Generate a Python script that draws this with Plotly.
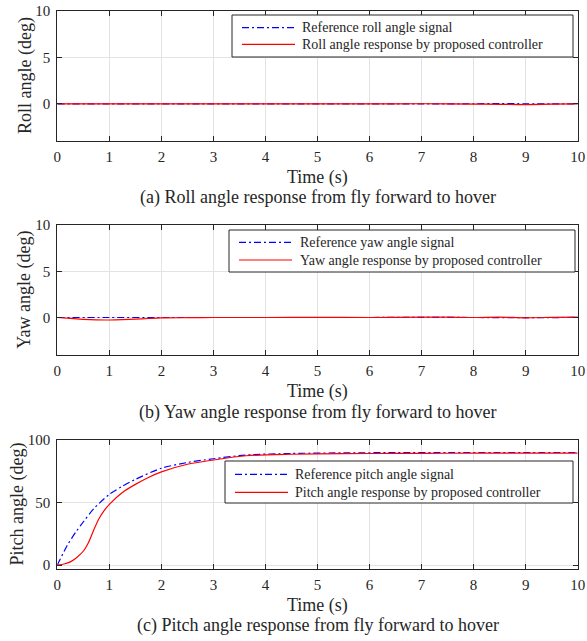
import plotly.graph_objects as go

# ---------------- data ----------------
time_ticks = [0, 1, 2, 3, 4, 5, 6, 7, 8, 9, 10]

roll_t = [0, 1, 2, 3, 4, 5, 6, 7, 8, 8.5, 9, 9.5, 10]
roll_ref = [0, 0, 0, 0, 0, 0, 0, 0, 0.01, 0.02, 0.01, 0.0, 0]
roll_resp = [0, 0, 0, 0, 0, 0, 0, 0.01, -0.02, -0.05, -0.08, -0.03, 0]

yaw_ref_t = [0, 1, 2, 3, 4, 5, 6, 7, 8, 9, 10]
yaw_ref = [0, 0, 0, 0, 0, 0, 0, 0.02, 0.0, -0.02, 0.01]
yaw_t = [0, 0.25, 0.5, 0.75, 1, 1.25, 1.5, 1.75, 2, 2.5, 3, 4, 5, 6, 7, 7.5, 8, 8.5, 9, 9.5, 10]
yaw_resp = [0, -0.1, -0.2, -0.26, -0.27, -0.24, -0.18, -0.11, -0.05, -0.02, 0, 0, 0.01, 0,
            0.03, 0.04, 0, 0.04, -0.03, 0.02, 0.05]

pitch_ref_t = [0, 0.19, 0.35, 0.51, 0.7, 1.0, 1.25, 1.5, 2.0, 2.5, 3.0, 3.63, 4.5, 5.5,
               6.5, 7.5, 8.5, 10.0]
pitch_ref = [0, 15.6, 26, 35, 45, 56.5, 63, 68.5, 77.4, 82, 85, 88, 89.2, 89.7,
             89.9, 90, 90, 90]
pitch_t = [0, 0.13, 0.26, 0.38, 0.51, 0.6, 0.7, 0.8, 0.9, 1.0, 1.25, 1.5, 1.75, 2.0, 2.5,
           3.0, 3.63, 4.5, 5.5, 6.5, 7.5, 8.5, 10.0]
pitch_resp = [0, 0.8, 2.7, 6.2, 11.6, 18, 28, 37, 43.5, 48.5, 58, 64.5, 70, 74.5, 80.6,
              84, 87.4, 88.6, 89.1, 89.3, 89.4, 89.5, 89.5]

captions = ["(a) Roll angle response from fly forward to hover",
            "(b) Yaw angle response from fly forward to hover",
            "(c) Pitch angle response from fly forward to hover"]
ytitles = ["Roll angle (deg)", "Yaw angle (deg)", "Pitch angle (deg)"]
legend_names = [["Reference roll angle signal", "Roll angle response by proposed controller"],
                ["Reference yaw angle signal", "Yaw angle response by proposed controller"],
                ["Reference pitch angle signal", "Pitch angle response by proposed controller"]]

# ---------------- layout helpers ----------------
W, H = 587, 641
FONT = "Liberation Serif"
TXT = "#262626"
BLUE = "#0000FF"
RED = "#FF0000"
DASHDOT = "7px,3px,2px,3px"

def px(x):
    return x / W

def py(y):
    return 1 - y / H

fig = go.Figure()

series = [
    (roll_t, roll_ref, roll_t, roll_resp),
    (yaw_ref_t, yaw_ref, yaw_t, yaw_resp),
    (pitch_ref_t, pitch_ref, pitch_t, pitch_resp),
]
for i, (rt, rv, st, sv) in enumerate(series):
    ax = "" if i == 0 else str(i + 1)
    fig.add_trace(go.Scatter(x=rt, y=rv, mode="lines", name=legend_names[i][0],
                             xaxis="x" + ax, yaxis="y" + ax, showlegend=False,
                             line=dict(color=BLUE, width=1.2, dash=DASHDOT,
                                       shape="spline", smoothing=0.8)))
    fig.add_trace(go.Scatter(x=st, y=sv, mode="lines", name=legend_names[i][1],
                             xaxis="x" + ax, yaxis="y" + ax, showlegend=False,
                             line=dict(color=RED, width=1.2, shape="spline", smoothing=0.8)))

# pixel geometry of each panel: (top, bottom)
panels = [(11, 141), (225, 354.5), (440, 569)]
yranges = [[-4, 10], [-4, 10], [-3.2, 100]]
yticks = [[0, 5, 10], [0, 5, 10], [0, 50, 100]]
x0, x1 = 57.3, 577.7

axis_common = dict(
    ticks="inside", ticklen=5, tickwidth=1, tickcolor=TXT,
    showline=True, linecolor=TXT, linewidth=1, mirror="ticks",
    showgrid=True, gridcolor="#e3e3e3", gridwidth=1, zeroline=False,
    tickfont=dict(family=FONT, size=15, color=TXT),
)

layout = dict(
    width=W, height=H, margin=dict(l=0, r=0, t=0, b=0, autoexpand=False),
    paper_bgcolor="white", plot_bgcolor="white",
    font=dict(family=FONT, color=TXT),
)
for i, (top, bot) in enumerate(panels):
    ax = "" if i == 0 else str(i + 1)
    layout["xaxis" + ax] = dict(axis_common, domain=[px(x0), px(x1)], range=[0, 10],
                                tickvals=time_ticks, anchor="y" + ax, ticklabelstandoff=2)
    layout["yaxis" + ax] = dict(axis_common, domain=[py(bot), py(top)], range=yranges[i],
                                tickvals=yticks[i], anchor="x" + ax, ticklabelstandoff=3)
fig.update_layout(**layout)

# axis titles & captions
title_x = [25, 25, 17]
time_y = [177.5, 391, 605]
cap_y = [197, 412, 625]
for i, (top, bot) in enumerate(panels):
    fig.add_annotation(text=ytitles[i], x=px(title_x[i]), y=py((top + bot) / 2),
                       xref="paper", yref="paper", textangle=-90, showarrow=False,
                       xanchor="center", yanchor="middle",
                       font=dict(family=FONT, size=18, color=TXT))
    fig.add_annotation(text="Time (s)", x=px((x0 + x1) / 2), y=py(time_y[i]),
                       xref="paper", yref="paper", showarrow=False,
                       xanchor="center", yanchor="middle",
                       font=dict(family=FONT, size=18, color=TXT))
    fig.add_annotation(text=captions[i], x=px((x0 + x1) / 2), y=py(cap_y[i]),
                       xref="paper", yref="paper", showarrow=False,
                       xanchor="center", yanchor="middle",
                       font=dict(family=FONT, size=18, color=TXT))

# legends (box, line samples, labels)
legends = [
    dict(box=(232, 15, 573, 57), rows=(27.7, 44.3), line=(242, 295), text=300),
    dict(box=(229, 230, 575, 272), rows=(242.3, 260), line=(239, 292), text=298),
    dict(box=(225, 461, 573, 503), rows=(474.3, 492.3), line=(235, 288), text=293),
]
for i, lg in enumerate(legends):
    bx0, by0, bx1, by1 = lg["box"]
    fig.add_shape(type="rect", xref="paper", yref="paper",
                  x0=px(bx0), x1=px(bx1), y0=py(by1), y1=py(by0),
                  line=dict(color=TXT, width=1), fillcolor="white", layer="above")
    for j, (color, dash) in enumerate([(BLUE, DASHDOT), (RED, "solid")]):
        yy = lg["rows"][j]
        fig.add_shape(type="line", xref="paper", yref="paper",
                      x0=px(lg["line"][0]), x1=px(lg["line"][1]), y0=py(yy), y1=py(yy),
                      line=dict(color=color, width=1.2, dash=dash), layer="above")
        fig.add_annotation(text=legend_names[i][j], x=px(lg["text"]), y=py(yy),
                           xref="paper", yref="paper", showarrow=False,
                           xanchor="left", yanchor="middle",
                           font=dict(family=FONT, size=14, color=TXT))

fig.write_html("out.html")
